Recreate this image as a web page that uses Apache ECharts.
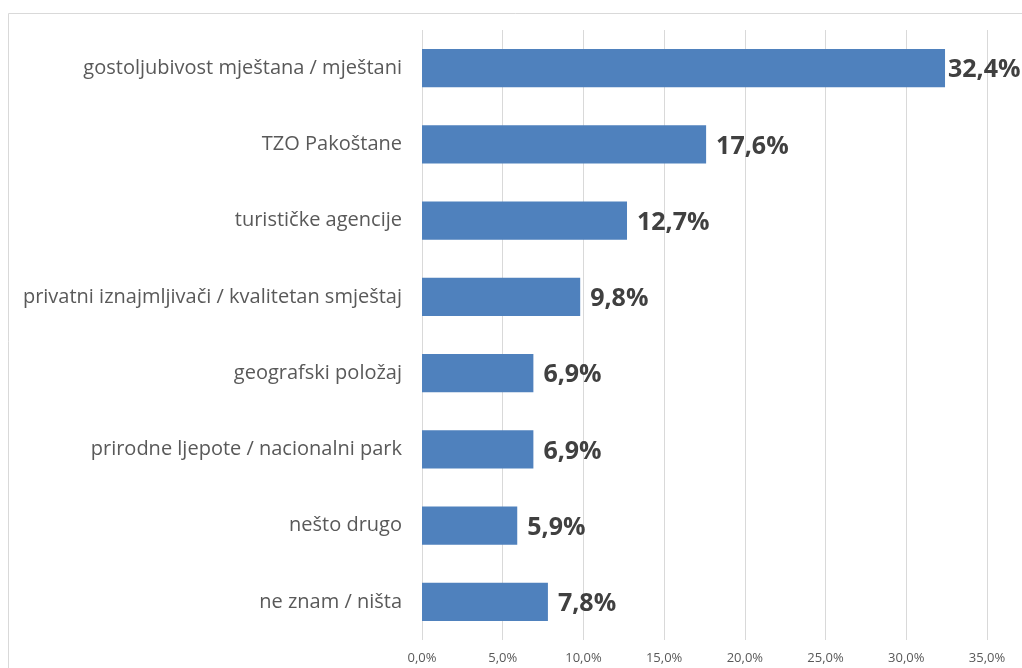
<!DOCTYPE html>
<html><head><meta charset="utf-8">
<script src="https://cdn.jsdelivr.net/npm/echarts@6/dist/echarts.min.js"></script>
<style>html,body{margin:0;padding:0;background:#fff}#c{width:1022px;height:668px}</style>
</head><body><div id="c"></div>
<script>
const categories = ["gostoljubivost mještana / mještani","TZO Pakoštane","turističke agencije","privatni iznajmljivači / kvalitetan smještaj","geografski položaj","prirodne ljepote / nacionalni park","nešto drugo","ne znam / ništa"];
const values = [32.4,17.6,12.7,9.8,6.9,6.9,5.9,7.8];
const fmt = v => v.toFixed(1).replace('.', ',') + '%';
const chart = echarts.init(document.getElementById('c'));
chart.setOption({
  animation:false,
  graphic:[{type:'rect',shape:{x:8.5,y:13.5,width:1040,height:700},style:{fill:'none',stroke:'#d9d9d9',lineWidth:1},silent:true}],
  grid:{left:422,right:35,top:30,bottom:28},
  xAxis:{type:'value',min:0,max:35,interval:5,
    axisLine:{show:false},axisTick:{show:false},
    splitLine:{lineStyle:{color:'#d9d9d9',width:1}},
    axisLabel:{formatter:v=>fmt(v),color:'#595959',fontSize:13,fontFamily:'Open Sans',margin:12}},
  yAxis:{type:'category',data:categories,inverse:true,
    axisLine:{show:false},axisTick:{show:false},
    axisLabel:{color:'#595959',fontSize:20,fontFamily:'Open Sans',margin:20}},
  series:[{type:'bar',
    data:values.map((v,i)=> i===0 ? {value:v,label:{distance:3}} : v),
    barWidth:'50%',itemStyle:{color:'#4F81BD'},
    label:{show:true,position:'right',formatter:p=>fmt(p.value),color:'#404040',fontSize:25,fontWeight:'bold',fontFamily:'Open Sans',distance:10,offset:[0,2]}}]
});
</script></body></html>
